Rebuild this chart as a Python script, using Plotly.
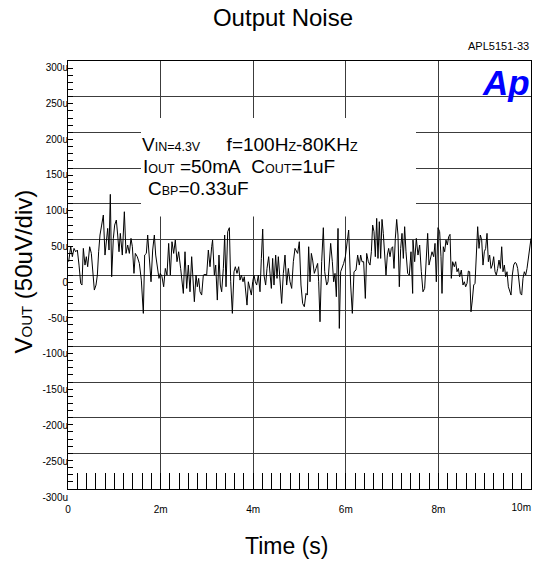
import plotly.graph_objects as go

# ---------------- data ----------------
# time in ms, output noise in uV (as read against the printed tick labels)
t_seg1 = [0.014, 0.058, 0.094, 0.130, 0.166, 0.202, 0.238, 0.274, 0.302, 0.331,
          0.367, 0.396, 0.425, 0.468, 0.504, 0.540, 0.569, 0.605, 0.634, 0.662,
          0.691, 0.727, 0.763, 0.799, 0.835, 0.857, 0.886, 0.914, 0.943, 0.979,
          1.008, 1.044, 1.073, 1.102, 1.130, 1.173, 1.217, 1.253, 1.289, 1.325,
          1.361, 1.390, 1.425, 1.454, 1.497, 1.541, 1.584, 1.627, 1.656, 1.692,
          1.721, 1.757, 1.793, 1.829, 1.865, 1.894, 1.929, 1.965, 1.994, 2.030,
          2.066, 2.102, 2.138, 2.174, 2.210, 2.246, 2.282, 2.318, 2.354, 2.390,
          2.433]
v_seg1 = [28.7, 49.6, 35.7, 47.3, 42.6, 45.0, 24.0, -1.6, -3.9, 47.3,
          24.0, 35.7, 21.7, 49.6, 40.3, 5.4, -10.9, -3.9, 10.0, 42.6,
          66.0, 79.9, 93.9, 38.0, 66.0, 75.2, 45.0, 122.8, 7.7, 61.3,
          79.9, 86.9, 66.0, 42.6, 68.3, 38.0, 98.5, 40.3, 52.0, 40.3,
          61.3, 49.6, 12.4, 40.3, 35.7, 26.3, 3.0, -43.5, 38.0, 40.3,
          66.0, 31.0, 0.7, 45.0, 66.0, 38.0, 24.0, 5.4, 12.4, 7.7,
          -6.3, 19.3, 10.0, 54.3, 10.0, 56.6, 40.3, 58.9, 28.7, 42.6,
          19.3]

t_seg2 = [2.491, 2.527, 2.563, 2.599, 2.635, 2.671, 2.707, 2.729, 2.765, 2.793,
          2.822, 2.851, 2.887, 2.923, 2.959, 2.995, 3.031, 3.067, 3.103, 3.123,
          3.161, 3.190, 3.225, 3.261, 3.290, 3.319, 3.355, 3.384, 3.413, 3.449,
          3.485, 3.514, 3.550, 3.585, 3.614, 3.650, 3.686, 3.715, 3.744, 3.780,
          3.808, 3.837, 3.866, 3.895, 3.931, 3.960, 3.989, 4.017, 4.046, 4.075,
          4.111, 4.147, 4.176, 4.205, 4.233, 4.269, 4.298, 4.334, 4.363, 4.392,
          4.420, 4.449, 4.485, 4.514, 4.543, 4.579, 4.615, 4.651, 4.687, 4.723,
          4.759, 4.795, 4.831, 4.867, 4.903]
v_seg2 = [-15.6, 42.6, -8.6, 24.0, -13.3, 35.7, -17.9, -27.2, 10.0, -6.3,
          5.4, -13.3, -17.9, 10.0, 11.0, 10.0, 45.0, 21.7, 49.6, 58.9,
          10.0, 24.0, -24.9, 38.0, -3.9, -13.3, 19.3, 66.0, -6.3, 70.6,
          76.2, 0.7, -43.5, 14.7, 21.7, 12.4, 21.7, 3.0, 10.0, 0.7,
          7.7, -17.9, -31.9, 0.7, -10.9, -17.9, 0.7, 10.0, 0.7, -3.9,
          10.0, -13.3, 33.3, 74.3, 10.0, -3.9, 19.3, 35.7, 12.4, -8.6,
          33.3, -3.9, 38.0, 5.4, 35.7, -3.9, -29.6, 12.4, 38.0, -3.9,
          19.3, 0.7, -8.6, 28.7, 47.3]

t_seg3 = [4.960, 4.996, 5.032, 5.068, 5.104, 5.140, 5.169, 5.198, 5.227, 5.256,
          5.284, 5.320, 5.356, 5.392, 5.414, 5.443, 5.479, 5.515, 5.544, 5.587,
          5.616, 5.645, 5.673, 5.709, 5.738, 5.767, 5.796, 5.832, 5.860, 5.889,
          5.918, 5.954, 5.990, 6.026, 6.062, 6.105, 6.141, 6.177, 6.220, 6.256,
          6.292, 6.321, 6.350, 6.386, 6.422, 6.451, 6.487, 6.523, 6.552, 6.580,
          6.609, 6.638, 6.667, 6.695, 6.724, 6.753, 6.782, 6.810, 6.839, 6.868,
          6.897, 6.926, 6.955, 6.983, 7.012, 7.041, 7.070, 7.099, 7.127, 7.156,
          7.185, 7.214, 7.243, 7.271, 7.300, 7.336, 7.372, 7.408, 7.444]
v_seg3 = [40.3, 56.6, -3.9, -29.6, -34.2, -15.6, -17.9, 49.6, 0.7, 40.3,
          31.0, 12.4, 19.3, 26.3, 0.7, -55.2, 28.7, 76.2, 14.7, -3.9,
          0.7, 38.0, 54.3, 28.7, 0.7, 12.4, -20.2, 75.2, -64.5, 14.7,
          19.3, 26.3, 35.7, 54.3, 72.9, -3.9, -43.5, 14.7, 17.0, 38.0,
          24.0, 38.0, 28.7, 28.7, -22.6, 40.3, 28.7, 24.0, 42.6, 79.9,
          70.6, 35.7, 89.2, 33.3, 84.6, 33.3, 87.8, 68.3, 40.3, 10.0,
          38.0, 47.3, 35.7, 47.3, 49.6, 19.3, 61.3, 87.8, 66.0, -6.3,
          47.3, 68.3, 33.3, 77.6, 42.6, 12.4, 10.0, 42.6, -15.6]

t_seg4 = [7.451, 7.487, 7.523, 7.559, 7.595, 7.631, 7.667, 7.703, 7.739, 7.768,
          7.797, 7.826, 7.862, 7.898, 7.927, 7.955, 7.991, 8.027, 8.056, 8.078,
          8.106, 8.135, 8.164, 8.193, 8.222, 8.251, 8.279, 8.308, 8.344, 8.373,
          8.402, 8.431, 8.459, 8.495, 8.531, 8.560, 8.589, 8.618, 8.647, 8.675,
          8.704, 8.733, 8.762, 8.791, 8.819, 8.848, 8.877, 8.906, 8.935, 8.963,
          8.992, 9.021, 9.050, 9.079, 9.107, 9.136, 9.165, 9.194, 9.223, 9.251,
          9.280, 9.309, 9.338, 9.367, 9.395, 9.424, 9.453, 9.482, 9.511, 9.539,
          9.568, 9.597, 9.626, 9.655, 9.683, 9.712, 9.741, 9.770, 9.799, 9.827,
          9.856, 9.885, 9.914, 9.943, 9.971, 10.000]
v_seg4 = [58.9, 28.7, 61.3, 38.0, 52.0, 14.7, -13.3, -8.6, 26.3, 68.3,
          24.0, 33.3, 42.6, 35.7, 54.3, 0.7, 76.2, 70.6, 35.7, -15.6,
          49.6, 42.6, 58.9, 52.0, 63.6, 66.9, 5.4, 28.7, 21.7, 28.7,
          14.7, 19.3, 7.7, 17.0, -3.9, 0.7, -6.3, -1.6, 15.6, 14.7,
          -41.2, -24.9, -3.9, -1.6, 31.0, 77.6, 47.3, 66.0, 58.9, 24.0,
          42.6, 47.3, 68.3, 28.7, 38.0, 19.3, 24.0, 35.7, 14.7, 10.0,
          19.3, 31.0, 19.3, 49.6, 14.7, 24.0, 7.7, 14.7, -6.3, -13.3,
          -17.9, 10.0, 24.0, 27.7, 26.3, 19.3, -3.9, -15.6, -17.9, 5.4,
          14.7, 10.0, 19.3, 33.3, 42.6, 61.3]

x_tick_vals = [0, 2, 4, 6, 8]
x_tick_text = ["0", "2m", "4m", "6m", "8m"]
x_end_tick_val = [10]
x_end_tick_text = ["10m"]
y_tick_vals = [300, 250, 200, 150, 100, 50, 0, -50, -100, -150, -200, -250, -300]
y_tick_text = ["300u", "250u", "200u", "150u", "100u", "50u", "0", "-50u",
               "-100u", "-150u", "-200u", "-250u", "-300u"]

time_ms = t_seg1 + t_seg2 + t_seg3 + t_seg4
noise_uv = v_seg1 + v_seg2 + v_seg3 + v_seg4
assert len(time_ms) == len(noise_uv)

# ---------------- layout geometry ----------------
W, H = 533, 565
ML, MR, MT, MB = 68, 2, 61, 68
PW = W - ML - MR
PH = H - MT - MB
GRID_BOTTOM_PX = 489      # bottom of the graticule
LABEL_TOP_PX = 67.5       # pixel of the "300u" label


def pxx(p):
    return (p - ML) / PW


def pxy(p):
    return (H - MB - p) / PH


FONT = "Liberation Sans, Arial, Helvetica, sans-serif"
GRID = "#3c3c3c"
TICKFONT = dict(size=10, family=FONT, color="black")

fig = go.Figure()
fig.add_trace(go.Scatter(
    x=time_ms, y=noise_uv, xaxis="x2", yaxis="y2", mode="lines",
    line=dict(color="black", width=1), showlegend=False, hoverinfo="skip"))

# graticule axes (12 vertical divisions)
div_px = (GRID_BOTTOM_PX - MT) / 12.0


def gy(p):
    return (GRID_BOTTOM_PX - p) / div_px


def gx(p):
    return (p - ML) / PW * 10.0


fig.update_layout(
    width=W, height=H,
    margin=dict(l=ML, r=MR, t=MT, b=MB, pad=0, autoexpand=False),
    paper_bgcolor="white", plot_bgcolor="rgba(0,0,0,0)",
    font=dict(family=FONT, color="black"),
    title=dict(text="Output Noise", x=283 / W, xref="container", xanchor="center",
               y=1 - 18 / H, yref="container", yanchor="middle",
               font=dict(size=24, family=FONT, color="black")),
    xaxis=dict(domain=[0, 1], range=[0, 10], anchor="y",
               tickmode="array", tickvals=x_tick_vals, ticktext=x_tick_text,
               ticks="inside", ticklen=16, tickcolor="black", tickwidth=1,
               minor=dict(dtick=0.2, tick0=0, ticks="inside", ticklen=16,
                          tickcolor="black", tickwidth=1, showgrid=False),
               showgrid=True, gridcolor=GRID, gridwidth=1,
               showline=True, linecolor="black", linewidth=1, mirror=True,
               zeroline=False, tickfont=TICKFONT,
               ticklabelstandoff=11, fixedrange=True),
    yaxis=dict(domain=[pxy(GRID_BOTTOM_PX), 1], range=[0, 12], anchor="x",
               tick0=0, dtick=1, showticklabels=False,
               ticks="inside", ticklen=5, tickcolor="black", tickwidth=1,
               minor=dict(dtick=0.2, tick0=0, ticks="inside", ticklen=5,
                          tickcolor="black", tickwidth=1, showgrid=False),
               showgrid=True, gridcolor=GRID, gridwidth=1,
               showline=True, linecolor="black", linewidth=1, mirror=True,
               zeroline=False, fixedrange=True),
    # data x axis: same scale, only carries the right-aligned "10m" label
    xaxis2=dict(domain=[0, 1], range=[0, 10], anchor="free",
                position=pxy(GRID_BOTTOM_PX), side="bottom",
                tickmode="array", tickvals=x_end_tick_val, ticktext=x_end_tick_text,
                ticks="", showgrid=False, zeroline=False, showline=False,
                ticklabelposition="outside left", tickfont=TICKFONT,
                ticklabelstandoff=11, fixedrange=True),
    yaxis2=dict(domain=[0, pxy(LABEL_TOP_PX)], range=[-300, 300], anchor="free",
                position=0, side="left", tickmode="array", tickvals=y_tick_vals,
                ticktext=y_tick_text, ticks="", showgrid=False, zeroline=False,
                showline=False, tickfont=TICKFONT, fixedrange=True),
)

# white box behind the test conditions
fig.add_shape(type="rect", xref="x", yref="y", layer="between",
              x0=gx(141), x1=gx(416), y0=gy(216.5), y1=gy(118),
              fillcolor="white", line=dict(width=0))

small = "<span style='font-size:12.5px'>{}</span>"
cond_lines = [
    ("V" + small.format("IN=4.3V") + "\u00a0\u00a0\u00a0\u00a0\u00a0f=100H"
     + small.format("Z") + "-80KH" + small.format("Z"), 140, 144.5),
    ("I" + small.format("OUT") + " =50mA\u00a0\u00a0C" + small.format("OUT")
     + "=1uF", 141, 166),
    ("C" + small.format("BP") + "=0.33uF", 146, 188),
]
for txt, xp, yp in cond_lines:
    fig.add_annotation(text=txt, xref="paper", yref="paper", x=pxx(xp), y=pxy(yp),
                       xanchor="left", yanchor="middle", showarrow=False,
                       font=dict(size=19, family=FONT, color="black"))

# axis titles
fig.add_annotation(text="V<span style='font-size:15px'>OUT</span> (50uV/div)",
                   textangle=-90, xref="paper", yref="paper", x=pxx(23), y=pxy(271.5),
                   xanchor="center", yanchor="middle", showarrow=False,
                   font=dict(size=24, family=FONT, color="black"))
fig.add_annotation(text="Time (s)", xref="paper", yref="paper", x=pxx(286), y=pxy(546),
                   xanchor="center", yanchor="middle", showarrow=False,
                   font=dict(size=23, family=FONT, color="black"))

# part number and logo
fig.add_annotation(text="APL5151-33", xref="paper", yref="paper", x=pxx(531), y=pxy(46),
                   xanchor="right", yanchor="middle", showarrow=False,
                   font=dict(size=11, family=FONT, color="black"))
fig.add_annotation(text="<b><i>Ap</i></b>", xref="paper", yref="paper", x=pxx(532),
                   y=pxy(82), xanchor="right", yanchor="middle", showarrow=False,
                   font=dict(size=35, family="Liberation Sans Narrow, Arial Narrow, "
                             + FONT, color="#0000ff"))

fig.write_html(
    "out.html",
    config={"displayModeBar": False},
    post_script="document.body.style.margin='0px';"
                "document.body.style.overflow='hidden';"
                "document.documentElement.style.overflow='hidden';")
